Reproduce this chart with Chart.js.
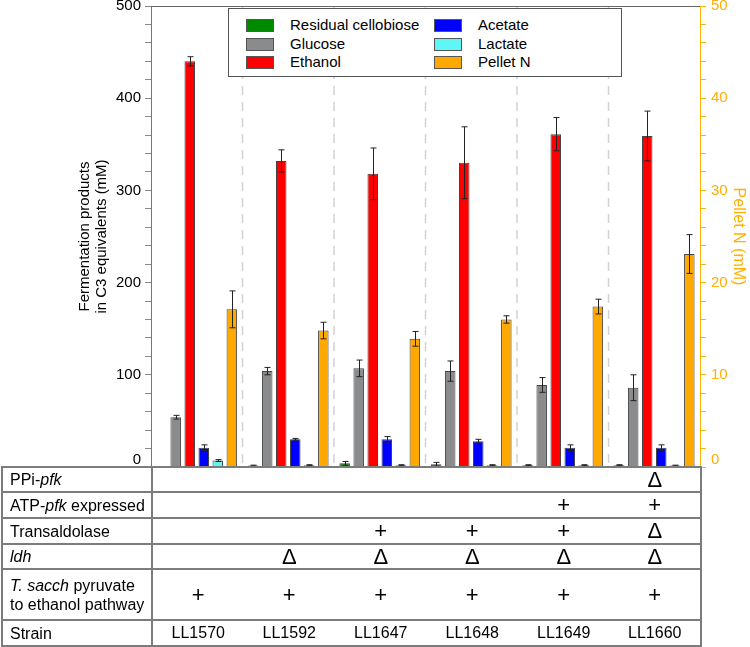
<!DOCTYPE html>
<html>
<head>
<meta charset="utf-8">
<script src="https://cdn.jsdelivr.net/npm/chart.js@4"></script>
<style>
  body { margin: 0; background: #fff; font-family: "Liberation Sans", Arial, sans-serif; }
  #wrap { position: relative; width: 750px; height: 647px; overflow: hidden; }
  #grafico { position: absolute; left: 0; top: 0; }
  #legenda { position: absolute; left: 228px; top: 8px; width: 392px; height: 67px; border: 1px solid #555; background: #fff; font-size: 15px; color: #000; }
  .item { position: absolute; height: 18px; line-height: 18px; white-space: nowrap; }
  .cor { position: absolute; left: 0; top: 3px; width: 26px; height: 11px; border: 1px solid #555; }
  .item span { position: absolute; left: 44px; }
  #tabela { position: absolute; left: 1px; top: 466px; border-collapse: collapse; table-layout: fixed; font-size: 16px; color: #000; }
  #tabela td { border-top: 2px solid #7c7c7c; border-bottom: 2px solid #7c7c7c; padding: 0; text-align: center; vertical-align: middle; line-height: 18px; }
  #tabela td.rot { text-align: left; padding-left: 7px; border-left: 2px solid #7c7c7c; border-right: 2px solid #7c7c7c; line-height: 19px; }
  #tabela td.ult { border-right: 2px solid #7c7c7c; }
  #tabela td.sim { font-size: 22px; line-height: 18px; }
</style>
</head>
<body>
<div id="wrap">
  <canvas id="grafico" width="750" height="470"></canvas>
  <div id="legenda"></div>
  <table id="tabela"></table>
</div>
<script>
const strains = ["LL1570", "LL1592", "LL1647", "LL1648", "LL1649", "LL1660"];

// left axis (mM C3 equivalents)
const cellobiose = [0.5, 1.5, 4, 3, 2, 2];
const cellobioseErr = [0, 0.5, 2, 2, 0.5, 0.5];
const glucose = [54, 104, 107, 104, 89, 86];
const glucoseErr = [2, 4, 9, 11, 8, 14];
const ethanol = [440, 332, 318, 330, 361, 359];
const ethanolErr = [5, 12, 28, 39, 18, 27];
const acetate = [21, 30, 30, 28, 21, 21];
const acetateErr = [3, 1, 3, 2, 3, 3];
const lactate = [7, 2, 2, 2, 2, 1.5];
const lactateErr = [1, 0.5, 0.5, 0.5, 0.5, 0.5];
// right axis (mM)
const pelletN = [17.1, 14.8, 13.9, 16.0, 17.4, 23.1];
const pelletNErr = [2.0, 0.9, 0.8, 0.4, 0.8, 2.1];

const leftTicks = [0, 100, 200, 300, 400, 500];
const rightTicks = [0, 10, 20, 30, 40, 50];

// table below the chart
const ppiPfk = ["", "", "", "", "", "Δ"];
const atpPfk = ["", "", "", "", "+", "+"];
const transaldolase = ["", "", "+", "+", "+", "Δ"];
const ldh = ["", "Δ", "Δ", "Δ", "Δ", "Δ"];
const tSacch = ["+", "+", "+", "+", "+", "+"];

const fonte = "'Liberation Sans', Arial, sans-serif";
const laranja = "#ffb000";

const series = [
    { label: "Residual cellobiose", data: cellobiose, err: cellobioseErr, color: "#008a00", axis: "y" },
    { label: "Glucose", data: glucose, err: glucoseErr, color: "#898b8d", axis: "y" },
    { label: "Ethanol", data: ethanol, err: ethanolErr, color: "#ff0000", axis: "y" },
    { label: "Acetate", data: acetate, err: acetateErr, color: "#0000ff", axis: "y" },
    { label: "Lactate", data: lactate, err: lactateErr, color: "#5ff6f6", axis: "y" },
    { label: "Pellet N", data: pelletN, err: pelletNErr, color: "#ffa800", axis: "y2" }
];

// legend
const legenda = document.getElementById("legenda");
const posLeg = [[17, 7], [17, 26], [17, 44], [205, 7], [205, 26], [205, 44]];
series.forEach((s, i) => {
    const d = document.createElement("div");
    d.className = "item";
    d.style.left = posLeg[i][0] + "px";
    d.style.top = posLeg[i][1] + "px";
    d.innerHTML = '<div class="cor" style="background:' + s.color + '"></div><span>' + s.label + '</span>';
    legenda.appendChild(d);
});

// table
const linhas = [
    { rot: "PPi-<i>pfk</i>", vals: ppiPfk, h: 25 },
    { rot: "ATP-<i>pfk</i> expressed", vals: atpPfk, h: 26 },
    { rot: "Transaldolase", vals: transaldolase, h: 26 },
    { rot: "<i>ldh</i>", vals: ldh, h: 25 },
    { rot: "<i>T. sacch</i> pyruvate<br>to ethanol pathway", vals: tSacch, h: 51 },
    { rot: "Strain", vals: strains, h: 26, texto: true }
];
const tabela = document.getElementById("tabela");
const cg = document.createElement("colgroup");
cg.innerHTML = '<col style="width:150px">' + strains.map(() => '<col style="width:91.5px">').join("");
tabela.appendChild(cg);
linhas.forEach(l => {
    const tr = document.createElement("tr");
    tr.style.height = l.h + "px";
    let html = '<td class="rot">' + l.rot + '</td>';
    l.vals.forEach((v, i) => {
        const cls = (l.texto ? "" : "sim") + (i === l.vals.length - 1 ? " ult" : "");
        html += '<td class="' + cls + '">' + v + '</td>';
    });
    tr.innerHTML = html;
    tabela.appendChild(tr);
});

const extras = {
    id: "extras",
    beforeDatasetsDraw(chart) {
        const { ctx, chartArea, scales } = chart;
        ctx.save();
        // dashed separators between strains
        ctx.strokeStyle = "#d2d2d2";
        ctx.lineWidth = 1.5;
        ctx.setLineDash([9, 7]);
        for (let i = 1; i < strains.length; i++) {
            const x = (scales.x.getPixelForValue(i - 1) + scales.x.getPixelForValue(i)) / 2;
            ctx.beginPath();
            ctx.moveTo(x, chartArea.top);
            ctx.lineTo(x, chartArea.bottom);
            ctx.stroke();
        }
        ctx.setLineDash([]);
        // top frame
        ctx.strokeStyle = "#666";
        ctx.lineWidth = 1;
        ctx.beginPath();
        ctx.moveTo(chartArea.left, chartArea.top + 0.5);
        ctx.lineTo(chartArea.right, chartArea.top + 0.5);
        ctx.stroke();
        ctx.restore();
    },
    afterDatasetsDraw(chart) {
        const { ctx } = chart;
        ctx.save();
        ctx.strokeStyle = "#222";
        ctx.lineWidth = 1;
        chart.data.datasets.forEach((ds, i) => {
            const meta = chart.getDatasetMeta(i);
            const sc = chart.scales[ds.yAxisID];
            meta.data.forEach((bar, j) => {
                const e = ds.err[j];
                if (!e) return;
                const x = Math.round(bar.x) + 0.5;
                const y1 = sc.getPixelForValue(ds.data[j] + e);
                const y2 = sc.getPixelForValue(Math.max(0, ds.data[j] - e));
                ctx.beginPath();
                ctx.moveTo(x, y1); ctx.lineTo(x, y2);
                ctx.moveTo(x - 3, y1); ctx.lineTo(x + 3, y1);
                ctx.moveTo(x - 3, y2); ctx.lineTo(x + 3, y2);
                ctx.stroke();
            });
        });
        ctx.restore();
    },
    afterDraw(chart) {
        // zero labels sit just above the table line
        const { ctx, scales } = chart;
        ctx.save();
        ctx.font = "15px " + fonte;
        ctx.textBaseline = "middle";
        const y0 = scales.y.getPixelForValue(0) - 7;
        ctx.fillStyle = "#000";
        ctx.textAlign = "right";
        ctx.fillText("0", scales.y.right - 10, y0);
        ctx.fillStyle = laranja;
        ctx.textAlign = "left";
        ctx.fillText("0", scales.y2.left + 11, y0);
        ctx.restore();
    }
};

new Chart(document.getElementById("grafico"), {
    type: "bar",
    data: {
        labels: strains,
        datasets: series.map(s => ({
            label: s.label,
            data: s.data,
            err: s.err,
            yAxisID: s.axis,
            backgroundColor: s.color,
            borderColor: "#444",
            borderWidth: 1,
            categoryPercentage: 0.92,
            barPercentage: 0.75
        }))
    },
    options: {
        responsive: false,
        animation: false,
        devicePixelRatio: 1,
        layout: { padding: { top: 6, bottom: 3, left: 0, right: 0 } },
        plugins: { legend: { display: false }, tooltip: { enabled: false } },
        scales: {
            x: { display: false },
            y: {
                position: "left",
                min: 0, max: 500,
                afterFit: s => { s.width = 151; s.paddingTop = 0; s.paddingBottom = 0; },
                ticks: {
                    stepSize: 20,
                    autoSkip: false,
                    padding: 4,
                    color: "#000",
                    font: { family: fonte, size: 15 },
                    callback: v => (leftTicks.includes(v) && v !== 0 ? v : "")
                },
                grid: { drawOnChartArea: false, tickLength: 6, color: "#888" },
                border: { color: "#777" },
                title: {
                    display: true,
                    text: ["Fermentation products", "in C3 equivalents (mM)"],
                    color: "#000",
                    font: { family: fonte, size: 15, lineHeight: 1.1 },
                    padding: { top: 77 }
                }
            },
            y2: {
                position: "right",
                min: 0, max: 50,
                afterFit: s => { s.width = 50; s.paddingTop = 0; s.paddingBottom = 0; },
                ticks: {
                    stepSize: 2,
                    autoSkip: false,
                    padding: 5,
                    color: laranja,
                    font: { family: fonte, size: 15 },
                    callback: v => (rightTicks.includes(v) && v !== 0 ? v : "")
                },
                grid: { drawOnChartArea: false, tickLength: 6, color: laranja },
                border: { color: laranja },
                title: {
                    display: true,
                    text: "Pellet N (mM)",
                    color: laranja,
                    font: { family: fonte, size: 16 },
                    padding: { top: 2 }
                }
            }
        }
    },
    plugins: [extras]
});
</script>
</body>
</html>
